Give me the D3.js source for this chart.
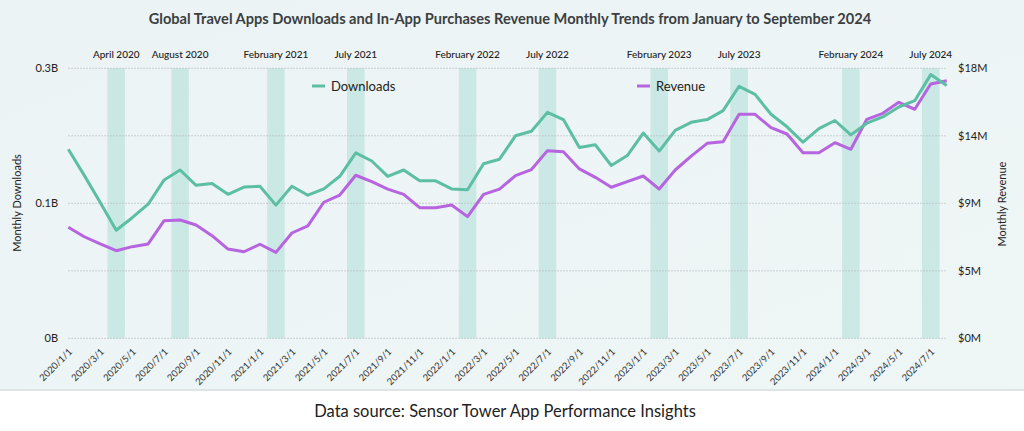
<html>
  <head>
    <meta charset="utf-8">
    <title>Global Travel Apps Downloads and Revenue</title>
    <script src="https://d3js.org/d3.v7.min.js"></script>
    <style>
      body { margin: 0; background: #fff; }
      text { font-family: Lato, "Noto Sans", sans-serif; }
    </style>
  </head>
  <body>
    <script>
  // data (Jan 2020 .. Aug 2024)
  var months = [
    "2020/1/1","2020/2/1","2020/3/1","2020/4/1","2020/5/1","2020/6/1","2020/7/1","2020/8/1","2020/9/1","2020/10/1","2020/11/1","2020/12/1",
    "2021/1/1","2021/2/1","2021/3/1","2021/4/1","2021/5/1","2021/6/1","2021/7/1","2021/8/1","2021/9/1","2021/10/1","2021/11/1","2021/12/1",
    "2022/1/1","2022/2/1","2022/3/1","2022/4/1","2022/5/1","2022/6/1","2022/7/1","2022/8/1","2022/9/1","2022/10/1","2022/11/1","2022/12/1",
    "2023/1/1","2023/2/1","2023/3/1","2023/4/1","2023/5/1","2023/6/1","2023/7/1","2023/8/1","2023/9/1","2023/10/1","2023/11/1","2023/12/1",
    "2024/1/1","2024/2/1","2024/3/1","2024/4/1","2024/5/1","2024/6/1","2024/7/1","2024/8/1"
  ];

  // monthly downloads, billions
  var downloads = [
    0.210, 0.181, 0.151, 0.120, 0.134, 0.149, 0.176, 0.187, 0.170, 0.172, 0.160, 0.168,
    0.169, 0.148, 0.169, 0.159, 0.166, 0.180, 0.206, 0.197, 0.180, 0.187, 0.175, 0.175,
    0.166, 0.165, 0.194, 0.199, 0.225, 0.230, 0.251, 0.243, 0.212, 0.215, 0.192, 0.203,
    0.228, 0.208, 0.231, 0.240, 0.243, 0.253, 0.280, 0.271, 0.249, 0.235, 0.218, 0.233,
    0.242, 0.226, 0.239, 0.246, 0.257, 0.264, 0.293, 0.281
  ];

  // monthly in-app revenue, $M
  var revenue = [
    7.40, 6.77, 6.29, 5.84, 6.11, 6.29, 7.84, 7.89, 7.55, 6.84, 5.95, 5.77,
    6.27, 5.73, 7.02, 7.49, 9.07, 9.55, 10.87, 10.44, 9.95, 9.60, 8.71, 8.71,
    8.89, 8.11, 9.60, 9.95, 10.84, 11.25, 12.51, 12.44, 11.29, 10.73, 10.07, 10.44,
    10.82, 9.95, 11.22, 12.15, 13.00, 13.11, 14.93, 14.93, 14.04, 13.62, 12.37, 12.37,
    13.04, 12.60, 14.60, 15.00, 15.73, 15.27, 16.95, 17.17
  ];

  // highlighted months
  var eventMonths = ["2020/4/1","2020/8/1","2021/2/1","2021/7/1","2022/2/1","2022/7/1","2023/2/1","2023/7/1","2024/2/1","2024/7/1"];
  var eventLabels = ["April 2020","August 2020","February 2021","July 2021","February 2022","July 2022","February 2023","July 2023","February 2024","July 2024"];

  var leftTicks = [0, 0.075, 0.15, 0.225, 0.3];
  var leftTickLabels = ["0B", "", "0.1B", "", "0.3B"];
  var rightTicks = [0, 4.5, 9, 13.5, 18];
  var rightTickLabels = ["$0M", "$5M", "$9M", "$14M", "$18M"];

  var width = 1024,
      height = 431;

  var svg = d3.select("body")
    .append("svg")
    .attr("width", width)
    .attr("height", height);

  // panel background
  var grad = svg.append("defs").append("linearGradient")
    .attr("id", "bg").attr("x1", 0).attr("y1", 0).attr("x2", 1).attr("y2", 1);
  grad.append("stop").attr("offset", "0%").attr("stop-color", "#ecf3f5");
  grad.append("stop").attr("offset", "100%").attr("stop-color", "#eef6f6");

  svg.append("rect")
    .attr("x", 0).attr("y", 0)
    .attr("width", width).attr("height", 390)
    .attr("fill", "url(#bg)");
  svg.append("line")
    .attr("x1", 0).attr("x2", width)
    .attr("y1", 390).attr("y2", 390)
    .style("stroke", "#dfe5e7")
    .style("stroke-width", 2);

  var x = d3.scalePoint()
    .domain(months)
    .range([68.3, 946.7]);

  var yL = d3.scaleLinear().domain([0, 0.3]).range([338.3, 68.3]);
  var yR = d3.scaleLinear().domain([0, 18]).range([338.3, 68.3]);

  // title
  svg.append("text")
    .attr("x", 510).attr("y", 24)
    .attr("text-anchor", "middle")
    .style("font-size", "14.6px")
    .style("font-weight", "bold")
    .style("fill", "#3b3f42")
    .text("Global Travel Apps Downloads and In-App Purchases Revenue Monthly Trends from January to September 2024");

  // highlight bands
  var bandW = 17.5;
  svg.append("g").selectAll("rect")
    .data(eventMonths)
    .enter().append("rect")
    .attr("x", function(d) { return x(d) - bandW / 2; })
    .attr("y", yL(0.3))
    .attr("width", bandW)
    .attr("height", yL(0) - yL(0.3))
    .attr("fill", "#a8dcd4")
    .attr("opacity", 0.5);

  svg.append("g").selectAll("text")
    .data(eventMonths)
    .enter().append("text")
    .attr("x", function(d) { return x(d); })
    .attr("y", 57.5)
    .attr("text-anchor", "middle")
    .style("font-size", "10px")
    .style("font-weight", 500)
    .style("fill", "#222")
    .text(function(d, i) { return eventLabels[i]; });

  // grid
  svg.append("g").selectAll("line")
    .data(leftTicks)
    .enter().append("line")
    .attr("x1", x.range()[0]).attr("x2", x.range()[1])
    .attr("y1", function(d) { return yL(d); })
    .attr("y2", function(d) { return yL(d); })
    .style("stroke", "#b9c2c6")
    .style("stroke-width", 1)
    .style("stroke-dasharray", "1.5,1.5");

  // left axis
  var axL = svg.append("g")
    .attr("transform", "translate(62,0)")
    .call(d3.axisLeft(yL).tickValues(leftTicks)
      .tickFormat(function(d, i) { return leftTickLabels[i]; })
      .tickSize(0).tickPadding(4));
  axL.select(".domain").remove();
  axL.selectAll("text").style("font-size", "11px").style("fill", "#222")
    .style("font-family", "Lato, sans-serif");

  // right axis
  var axR = svg.append("g")
    .attr("transform", "translate(955,0)")
    .call(d3.axisRight(yR).tickValues(rightTicks)
      .tickFormat(function(d, i) { return rightTickLabels[i]; })
      .tickSize(0).tickPadding(3));
  axR.select(".domain").remove();
  axR.selectAll("text").style("font-size", "11px").style("fill", "#222")
    .style("font-family", "Lato, sans-serif");

  // bottom axis, every other month
  var axB = svg.append("g")
    .attr("transform", "translate(0,338.3)")
    .call(d3.axisBottom(x)
      .tickValues(months.filter(function(d, i) { return i % 2 === 0; }))
      .tickSize(0).tickPadding(0));
  axB.select(".domain").remove();
  axB.selectAll("text")
    .attr("y", 0).attr("dy", 0)
    .attr("text-anchor", "end")
    .attr("transform", "translate(4,14) rotate(-45)")
    .style("font-size", "9.5px")
    .style("fill", "#333")
    .style("font-family", "Lato, sans-serif");

  // axis titles
  svg.append("text")
    .attr("transform", "translate(21,203) rotate(-90)")
    .attr("text-anchor", "middle")
    .style("font-size", "11px")
    .style("fill", "#222")
    .text("Monthly Downloads");
  svg.append("text")
    .attr("transform", "translate(1006,204) rotate(-90)")
    .attr("text-anchor", "middle")
    .style("font-size", "11px")
    .style("fill", "#222")
    .text("Monthly Revenue");

  // lines
  var lineL = d3.line()
    .x(function(d, i) { return x(months[i]); })
    .y(function(d) { return yL(d); });
  var lineR = d3.line()
    .x(function(d, i) { return x(months[i]); })
    .y(function(d) { return yR(d); });

  svg.append("path")
    .datum(revenue)
    .attr("fill", "none")
    .style("stroke", "#b664df")
    .style("stroke-width", 3)
    .style("stroke-linejoin", "round")
    .attr("d", lineR);

  svg.append("path")
    .datum(downloads)
    .attr("fill", "none")
    .style("stroke", "#5cbfa3")
    .style("stroke-width", 3)
    .style("stroke-linejoin", "round")
    .attr("d", lineL);

  // legend
  var legend = [
    { name: "Downloads", color: "#5cbfa3", x: 312 },
    { name: "Revenue", color: "#b664df", x: 637 }
  ];
  var lg = svg.append("g").selectAll("g")
    .data(legend)
    .enter().append("g")
    .attr("transform", function(d) { return "translate(" + d.x + ",86)"; });
  lg.append("line")
    .attr("x1", 0).attr("x2", 13)
    .style("stroke", function(d) { return d.color; })
    .style("stroke-width", 3);
  lg.append("text")
    .attr("x", 19).attr("y", 4.5)
    .style("font-size", "13px")
    .style("fill", "#222")
    .text(function(d) { return d.name; });

  // source
  svg.append("text")
    .attr("x", 505).attr("y", 417)
    .attr("text-anchor", "middle")
    .style("font-size", "16.5px")
    .style("fill", "#222")
    .text("Data source: Sensor Tower App Performance Insights");
    </script>
  </body>
</html>
